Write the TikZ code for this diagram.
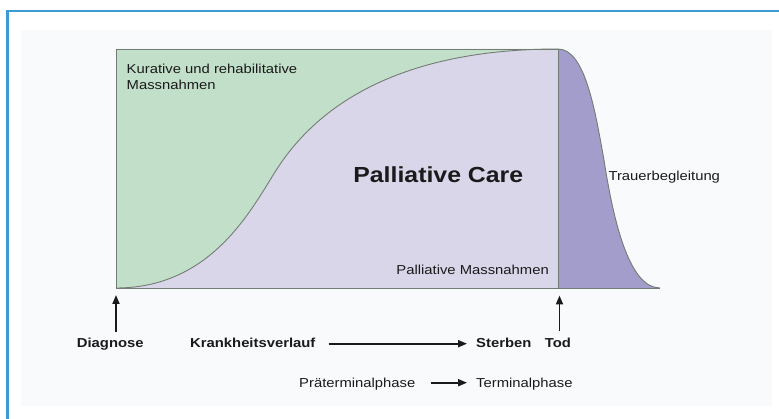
\documentclass[tikz,border=0pt]{standalone}
\usepackage{fontspec}
\setmainfont{Liberation Sans}[FakeStretch=1.14]
\usetikzlibrary{arrows.meta,calc}
\definecolor{frameblue}{HTML}{3B9BD2}
\definecolor{bgpale}{HTML}{F9FAFC}
\definecolor{curegreen}{HTML}{C2E0C9}
\definecolor{palllav}{HTML}{DAD6EA}
\definecolor{griefpurple}{HTML}{A39DCC}
\definecolor{edgegray}{HTML}{737C74}
\definecolor{txt}{HTML}{1A1A1A}
\begin{document}
\begin{tikzpicture}[x=1pt,y=-1pt,
  lbl/.style={inner sep=0pt, font=\fontsize{13}{16}\selectfont, text=txt},
  blbl/.style={inner sep=0pt, font=\fontsize{13}{16}\selectfont\bfseries, text=txt},
  arr/.style={draw=txt, line width=1.8pt, -{Triangle[length=9pt,width=7pt]}},
  edgeline/.style={draw=edgegray, line width=0.9pt}]
\useasboundingbox (0,0) rectangle (779,419);
\fill[white] (0,0) rectangle (779,419);
\fill[bgpale] (21,30) rectangle (772,406);
\draw[frameblue, line width=2.2pt] (7.5,419) -- (7.5,11) -- (779,11);

% regions
\fill[palllav] (116,49) rectangle (558,288);
\fill[curegreen] (116,288) .. controls (210,288) and (250,212) .. (275,172)
  .. controls (325,92) and (420,49) .. (558,49) -- (116,49) -- cycle;
\fill[griefpurple] (558,49) .. controls (585,49) and (595,110) .. (604,160)
  .. controls (614,225) and (630,288) .. (660,288) -- (558,288) -- cycle;
\draw[edgeline] (116,288) .. controls (210,288) and (250,212) .. (275,172)
  .. controls (325,92) and (420,49) .. (558,49);
\draw[edgeline] (558,49) .. controls (585,49) and (595,110) .. (604,160)
  .. controls (614,225) and (630,288) .. (660,288);
\draw[edgeline] (558,49) -- (116,49) -- (116,288) -- (660,288);
\draw[edgeline] (558,49) -- (558,288);

% texts
\node[lbl, anchor=base west] (kur1) at (126.5,73.3) {Kurative und rehabilitative};
\node[lbl, anchor=base west] (kur2) at (126.5,89.3) {Massnahmen};
\node[anchor=base, inner sep=0pt, text=txt, font=\fontsize{21.8}{26}\selectfont\bfseries] (pc) at (438.3,182.7) {Palliative Care};
\node[lbl, anchor=base east] (pm) at (549,275) {Palliative Massnahmen};
\node[lbl, anchor=base west] (trauer) at (608.3,180.7) {Trauerbegleitung};
\node[blbl, anchor=base west] (diag) at (76.7,347.7) {Diagnose};
\node[blbl, anchor=base west] (krank) at (190,347.7) {Krankheitsverlauf};
\node[blbl, anchor=base west] (sterb) at (476,347.7) {Sterben};
\node[blbl, anchor=base] (tod) at (558,347.7) {Tod};
\node[lbl, anchor=base west] (prae) at (299,387.3) {Präterminalphase};
\node[lbl, anchor=base west] (term) at (476,387.3) {Terminalphase};

% arrows
\coordinate (diagtail) at (116,332);
\coordinate (diagtip) at (116,295);
\coordinate (todtail) at (559.5,331);
\coordinate (todtip) at (559.5,295.5);
\draw[arr] (diagtail) -- (diagtip);
\draw[arr] (todtail) -- (todtip);
\draw[arr] ($(krank.base east)+(13,-4)$) -- ($(sterb.base west)+(-9,-4)$);
\draw[arr] ($(prae.base east)+(15,-4.6)$) -- ($(term.base west)+(-9,-4.6)$);
\end{tikzpicture}
\end{document}
